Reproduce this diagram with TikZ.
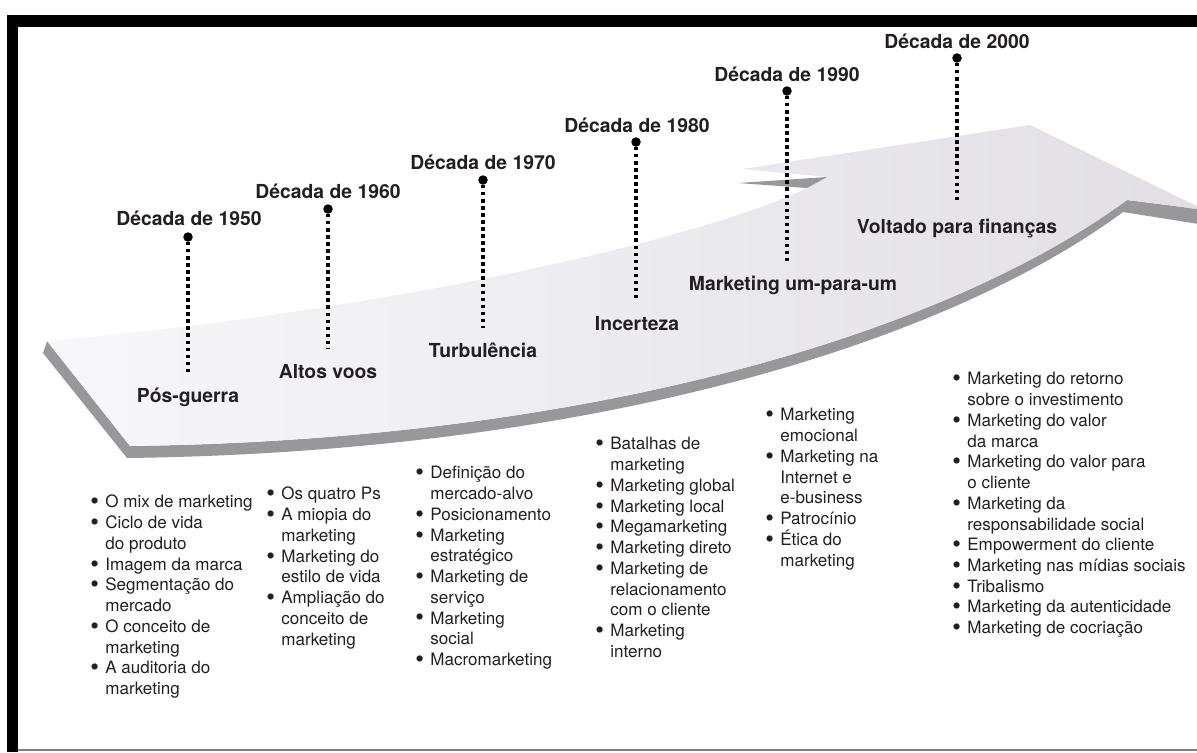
\documentclass[tikz,border=0pt]{standalone}
\usepackage{fontspec}
\setmainfont{TeX Gyre Heros}
\usepackage{xcolor}
\usepackage{graphicx}
\usepackage{tikz}
\usetikzlibrary{positioning}

\definecolor{ink}{RGB}{35,31,32}
\definecolor{shadowgray}{RGB}{152,152,155}
\definecolor{facelight}{RGB}{247,247,249}
\definecolor{facedark}{RGB}{225,223,228}

\newcommand{\bul}{\makebox[0.3cm][l]{\raisebox{-1.1pt}{\scalebox{1.45}{\textbullet}}}}
\newcommand{\contline}{\hspace*{0.3cm}}

\begin{document}
\begin{tikzpicture}[
    x=0.02cm, y=-0.02cm,
    decade/.style={font=\bfseries\fontsize{11}{13}\selectfont, text=ink, inner sep=0pt, anchor=base},
    era/.style={font=\bfseries\fontsize{11}{13}\selectfont, text=ink, inner sep=0pt, anchor=base},
    pin/.style={circle, fill=black, inner sep=0pt, minimum size=0.19cm},
    dotline/.style={line width=1.9pt, dash pattern=on 1.9pt off 2.1pt, black},
    items/.style={font=\fontsize{9.7}{11.8}\selectfont, text=ink, inner sep=0pt, anchor=north west, align=left}
  ]
  \useasboundingbox (0,0) rectangle (1197,752);
  \fill[white] (0,0) rectangle (1197,752);

  % frame
  \fill[black] (7,15) rectangle (1197,27);
  \fill[black] (7,15) rectangle (18,752);
  \draw[gray, line width=0.8pt] (18,750) -- (1197,750);

  % the rising arrow
  \begin{scope}
    \clip (18,27) rectangle (1197,749);
    \fill[shadowgray] (47,341) -- (43,353) -- (127,458)
      .. controls (597,452) and (947,342) .. (1123,212)
      -- (1205,225) -- (1205,210) -- (1167,205) -- (1127,200)
      .. controls (950,330) and (600,440) .. (130,446) -- cycle;
    \shade[left color=facelight, right color=facedark]
      (47,341) .. controls (380,312) and (700,240) .. (807,188)
      -- (827,177) -- (742,169) -- (1030,125) -- (1205,210)
      -- (1167,205) -- (1127,200)
      .. controls (950,330) and (600,440) .. (130,446) -- cycle;
    \fill[shadowgray] (738,183) -- (827,177) -- (807,188) -- cycle;
  \end{scope}

  % decades
  \node[decade] (d1950) at (189,225) {Década de 1950};
  \node[pin] (p1950) at (188,237) {};
  \coordinate (e1950) at (188,372);
  \node[era] (posguerra) at (188,402) {Pós-guerra};
  \draw[dotline] (p1950) -- (e1950);

  \node[decade] (d1960) at (328,198) {Década de 1960};
  \node[pin] (p1960) at (328,209) {};
  \coordinate (e1960) at (328,349);
  \node[era] (altos) at (328,378) {Altos voos};
  \draw[dotline] (p1960) -- (e1960);

  \node[decade] (d1970) at (483,169) {Década de 1970};
  \node[pin] (p1970) at (483,180) {};
  \coordinate (e1970) at (483,328);
  \node[era] (turb) at (483,357) {Turbulência};
  \draw[dotline] (p1970) -- (e1970);

  \node[decade] (d1980) at (637,132) {Década de 1980};
  \node[pin] (p1980) at (636,142) {};
  \coordinate (e1980) at (636,300);
  \node[era] (incerteza) at (637,330) {Incerteza};
  \draw[dotline] (p1980) -- (e1980);

  \node[decade] (d1990) at (787,81) {Década de 1990};
  \node[pin] (p1990) at (787,91) {};
  \coordinate (e1990) at (787,262);
  \node[era] (umparaum) at (793,290) {Marketing um-para-um};
  \draw[dotline] (p1990) -- (e1990);

  \node[decade] (d2000) at (957,48) {Década de 2000};
  \node[pin] (p2000) at (957,58) {};
  \coordinate (e2000) at (957,203);
  \node[era] (financas) at (957,233) {Voltado para finanças};
  \draw[dotline] (p2000) -- (e2000);

  % lists
  \node[items] (l1950) at (90,493) {\strut\bul O mix de marketing\\
    \bul Ciclo de vida\\ \contline do produto\\
    \bul Imagem da marca\\
    \bul Segmentação do\\ \contline mercado\\
    \bul O conceito de\\ \contline marketing\\
    \bul A auditoria do\\ \contline marketing};
  \node[items] (l1960) at (266,485) {\strut\bul Os quatro Ps\\
    \bul A miopia do\\ \contline marketing\\
    \bul Marketing do\\ \contline estilo de vida\\
    \bul Ampliação do\\ \contline conceito de\\ \contline marketing};
  \node[items] (l1970) at (415,464) {\strut\bul Definição do\\ \contline mercado-alvo\\
    \bul Posicionamento\\
    \bul Marketing\\ \contline estratégico\\
    \bul Marketing de\\ \contline serviço\\
    \bul Marketing\\ \contline social\\
    \bul Macromarketing};
  \node[items] (l1980) at (595,435) {\strut\bul Batalhas de\\ \contline marketing\\
    \bul Marketing global\\
    \bul Marketing local\\
    \bul Megamarketing\\
    \bul Marketing direto\\
    \bul Marketing de\\ \contline relacionamento\\ \contline com o cliente\\
    \bul Marketing\\ \contline interno};
  \node[items] (l1990) at (765,406) {\strut\bul Marketing\\ \contline emocional\\
    \bul Marketing na\\ \contline Internet e\\ \contline e-business\\
    \bul Patrocínio\\
    \bul Ética do\\ \contline marketing};
  \node[items] (l2000) at (952,370) {\strut\bul Marketing do retorno\\ \contline sobre o investimento\\
    \bul Marketing do valor\\ \contline da marca\\
    \bul Marketing do valor para\\ \contline o cliente\\
    \bul Marketing da\\ \contline responsabilidade social\\
    \bul Empowerment do cliente\\
    \bul Marketing nas mídias sociais\\
    \bul Tribalismo\\
    \bul Marketing da autenticidade\\
    \bul Marketing de cocriação};
\end{tikzpicture}
\end{document}
